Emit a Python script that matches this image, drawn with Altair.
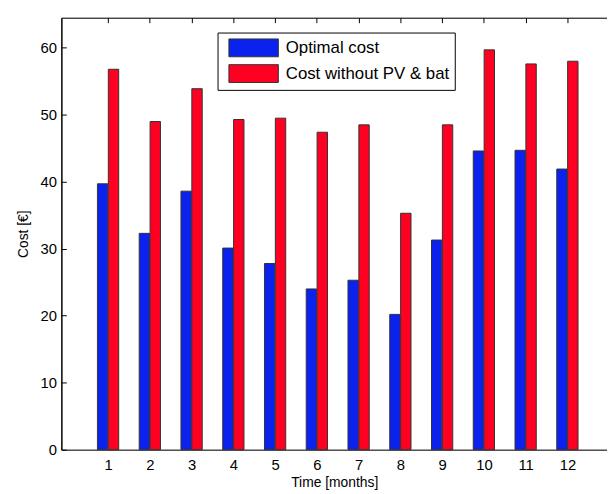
import altair as alt
import pandas as pd

months = list(range(1, 13))
optimal_cost = [39.7, 32.3, 38.6, 30.1, 27.8, 24.0, 25.3, 20.2, 31.3, 44.6, 44.7, 41.9]
cost_without = [56.8, 49.0, 53.9, 49.3, 49.5, 47.4, 48.5, 35.3, 48.5, 59.7, 57.6, 58.0]
series_names = ["Optimal cost", "Cost without PV & bat"]
series_colors = ["#0b22ee", "#fe0022"]
y_ticks = [0, 10, 20, 30, 40, 50, 60]

rows = []
for m, a, b in zip(months, optimal_cost, cost_without):
    rows.append({"month": m, "cost": a, "series": series_names[0]})
    rows.append({"month": m, "cost": b, "series": series_names[1]})
df = pd.DataFrame(rows)

W, H = 552, 437
FONT = "Liberation Sans"

xscale = alt.Scale(domain=[0, 12.83], nice=False, zero=False)
yscale = alt.Scale(domain=[0, 64.5], nice=False)
color = alt.Color(
    "series:N",
    scale=alt.Scale(domain=series_names, range=series_colors),
    title=None,
    legend=alt.Legend(
        orient="none", legendX=158, legendY=15,
        symbolType="M-0.4,-0.9L4.6,-0.9L4.6,0.9L-0.4,0.9Z",
        symbolSize=400, symbolStrokeColor="#333", symbolStrokeWidth=1,
        labelFont=FONT, labelFontSize=17, labelColor="black", labelOffset=43,
        labelLimit=400,
        strokeColor="black", fillColor="white", padding=5, rowPadding=3,
    ),
)

base = alt.Chart(df)

layer1 = base.transform_filter(alt.datum.series == series_names[0]).mark_bar(
    size=10.5, xOffset=-5.5, stroke="#333", strokeWidth=1
).encode(
    x=alt.X("month:Q", scale=xscale, title="Time [months]",
            axis=alt.Axis(values=months, tickSize=0, labelPadding=8, domainColor="black",
                          labelFont=FONT, labelFontSize=15, labelColor="black",
                          titleFont=FONT, titleFontSize=14, titleFontWeight="normal",
                          titlePadding=3, grid=False)),
    y=alt.Y("cost:Q", scale=yscale, title="Cost [€]",
            axis=alt.Axis(values=y_ticks, tickSize=0, labelPadding=5, domainColor="black",
                          labelFont=FONT, labelFontSize=15, labelColor="black",
                          titleFont=FONT, titleFontSize=14, titleFontWeight="normal",
                          titlePadding=10, grid=False)),
    color=color,
)

layer2 = base.transform_filter(alt.datum.series == series_names[1]).mark_bar(
    size=10.5, xOffset=5.5, stroke="#333", strokeWidth=1
).encode(
    x=alt.X("month:Q", scale=xscale,
            axis=alt.Axis(orient="bottom", offset=-H, values=months, labels=False, title=None,
                          tickSize=5, tickColor="black", domainColor="black", grid=False)),
    y=alt.Y("cost:Q", scale=yscale,
            axis=alt.Axis(orient="right", offset=-W, values=y_ticks, labels=False, title=None,
                          tickSize=5, tickColor="black", domainColor="black", grid=False)),
    color=color,
)

chart = alt.layer(layer1, layer2).resolve_axis(x="independent", y="independent").properties(
    width=W, height=H,
    autosize=alt.AutoSizeParams(type="none"),
    padding={"left": 54, "top": 7, "right": 0, "bottom": 40},
).configure_view(stroke=None).configure(background="white")

chart.save("out.html", embed_options={"renderer": "svg", "actions": False})
